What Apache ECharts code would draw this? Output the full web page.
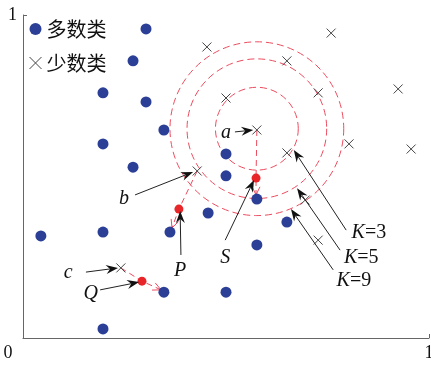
<!DOCTYPE html>
<html>
<head>
<meta charset="utf-8">
<script src="https://cdn.jsdelivr.net/npm/echarts@6/dist/echarts.min.js"></script>
<style>
  html, body { margin: 0; padding: 0; background: #fff; }
  #chart { width: 431px; height: 365px; }
</style>
</head>
<body>
<div id="chart"></div>
<script>
// majority class (dots)
const majorPoints = [
  [0.303, 0.957], [0.271, 0.858], [0.197, 0.759], [0.303, 0.731], [0.347, 0.644],
  [0.197, 0.601], [0.271, 0.529], [0.500, 0.570], [0.500, 0.502], [0.576, 0.430],
  [0.456, 0.387], [0.362, 0.328], [0.197, 0.328], [0.044, 0.316], [0.650, 0.359],
  [0.576, 0.288], [0.347, 0.142], [0.500, 0.142], [0.197, 0.028]
];
// minority class (crosses)
const minorPoints = [
  [0.453, 0.901], [0.759, 0.944], [0.650, 0.858], [0.727, 0.759], [0.500, 0.743],
  [0.576, 0.644], [0.924, 0.771], [0.803, 0.601], [0.956, 0.585], [0.650, 0.573],
  [0.429, 0.517], [0.241, 0.217], [0.727, 0.303], [0.695, 0.427]
];
// synthesized samples S, P, Q
const synthPoints = [[0.574, 0.495], [0.384, 0.399], [0.293, 0.176]];

// neighbourhood circles around a, radius in x units
const circleCenter = [0.576, 0.648];
const kRadii = [0.102, 0.172, 0.214];

// black pointer arrows: from x, from y, to x, to y
const pointerArrows = [
  [0.522, 0.638, 0.567, 0.644],
  [0.276, 0.443, 0.419, 0.514],
  [0.155, 0.204, 0.234, 0.217],
  [0.190, 0.149, 0.286, 0.173],
  [0.389, 0.257, 0.387, 0.393],
  [0.498, 0.303, 0.569, 0.489],
  [0.796, 0.334, 0.667, 0.582],
  [0.781, 0.272, 0.675, 0.464],
  [0.764, 0.211, 0.660, 0.399]
];

// red interpolation paths: seed -> new sample -> neighbour
const interpPaths = [
  [0.576, 0.644, 0.574, 0.495, 0.574, 0.443],
  [0.429, 0.517, 0.384, 0.399, 0.367, 0.341],
  [0.241, 0.217, 0.293, 0.176, 0.340, 0.149]
];

const labelNames = ['a', 'b', 'c', 'Q', 'P', 'S', 'K=3', 'K=5', 'K=9'];
const labelPos = [
  [0.500, 0.635], [0.249, 0.430], [0.111, 0.201], [0.167, 0.136], [0.387, 0.207],
  [0.498, 0.248], [0.852, 0.325], [0.833, 0.248], [0.815, 0.176]
];

const SERIF = '"Liberation Serif", "DejaVu Serif", serif';
const BLUE = '#2b3f96';
const RED = '#e8262a';
const PINK = '#ec4b5e';

function renderCircle(params, api) {
  const c = api.coord(circleCenter);
  const r = api.size([api.value(0), 0])[0];
  return {
    type: 'circle',
    shape: { cx: c[0], cy: c[1], r: r },
    style: { fill: null, stroke: PINK, lineWidth: 1, lineDash: [7, 4] }
  };
}

function renderArrow(params, api) {
  const p1 = api.coord([api.value(0), api.value(1)]);
  const p2 = api.coord([api.value(2), api.value(3)]);
  const ang = Math.atan2(p2[1] - p1[1], p2[0] - p1[0]);
  const c = Math.cos(ang), s = Math.sin(ang);
  const L = 12, W = 4.5, N = 8;
  const side = (d, w) => [p2[0] - d * c - w * s, p2[1] - d * s + w * c];
  return {
    type: 'group',
    children: [
      { type: 'line', shape: { x1: p1[0], y1: p1[1], x2: p2[0] - N * c, y2: p2[1] - N * s },
        style: { stroke: '#222', lineWidth: 1 } },
      { type: 'polygon', shape: { points: [p2, side(L, W), side(N, 0), side(L, -W)] },
        style: { fill: '#111' } }
    ]
  };
}

function renderInterp(params, api) {
  const pts = [0, 1, 2].map(i => api.coord([api.value(2 * i), api.value(2 * i + 1)]));
  const tip = pts[2], prev = pts[1];
  const ang = Math.atan2(tip[1] - prev[1], tip[0] - prev[0]);
  const h = 9, sp = 0.45;
  const w1 = [tip[0] - h * Math.cos(ang - sp), tip[1] - h * Math.sin(ang - sp)];
  const w2 = [tip[0] - h * Math.cos(ang + sp), tip[1] - h * Math.sin(ang + sp)];
  return {
    type: 'group',
    children: [
      { type: 'polyline', shape: { points: pts },
        style: { fill: null, stroke: PINK, lineWidth: 1, lineDash: [6, 4] } },
      { type: 'polyline', shape: { points: [w1, tip, w2] },
        style: { fill: null, stroke: PINK, lineWidth: 1 } }
    ]
  };
}

function renderLabel(params, api) {
  const p = api.coord([api.value(0), api.value(1)]);
  const name = labelNames[params.dataIndex];
  const txt = name.length > 1 ? '{i|' + name[0] + '}{n|' + name.slice(1) + '}' : '{i|' + name + '}';
  return {
    type: 'text',
    x: p[0], y: p[1],
    style: {
      text: txt,
      align: 'center',
      verticalAlign: 'middle',
      fill: '#111',
      rich: {
        i: { fontFamily: SERIF, fontSize: 20, fontStyle: 'italic', fill: '#111' },
        n: { fontFamily: SERIF, fontSize: 20, fill: '#111' }
      }
    }
  };
}

const chart = echarts.init(document.getElementById('chart'));
chart.setOption({
  animation: false,
  grid: { left: 23, right: 2, top: 15, bottom: 27, outerBoundsMode: 'none', containLabel: false },
  legend: {
    orient: 'vertical',
    left: 29,
    top: 19,
    itemWidth: 12,
    itemHeight: 12,
    itemGap: 14,
    padding: 0,
    textStyle: { fontFamily: '"Noto Sans CJK SC"', fontSize: 20, color: '#111' },
    data: [
      { name: '多数类', icon: 'circle', itemStyle: { color: BLUE } },
      { name: '少数类', icon: 'path://M0,0L10,10M0,10L10,0',
        itemStyle: { color: '#444', borderColor: '#444', borderWidth: 1 } }
    ]
  },
  xAxis: {
    type: 'value', min: 0, max: 1, interval: 1,
    splitLine: { show: false },
    axisLine: { lineStyle: { color: '#666' } },
    axisTick: { inside: true, length: 4, lineStyle: { color: '#666' } },
    axisLabel: {
      margin: 6,
      fontFamily: SERIF, fontSize: 18, color: '#111',
      formatter: v => v === 0 ? '{z|0}' : '1',
      rich: { z: { fontFamily: SERIF, fontSize: 18, color: '#111', padding: [0, 30, 0, 0] } }
    }
  },
  yAxis: {
    type: 'value', min: 0, max: 1, interval: 1,
    splitLine: { show: false },
    axisLine: { lineStyle: { color: '#666' } },
    axisTick: { inside: true, length: 4, lineStyle: { color: '#666' } },
    axisLabel: {
      margin: 6, showMinLabel: false,
      fontFamily: SERIF, fontSize: 18, color: '#111'
    }
  },
  series: [
    { type: 'custom', name: 'circles', z: 1, silent: true, clip: false,
      renderItem: renderCircle, data: kRadii.map(r => [r]) },
    { type: 'custom', name: 'interp', z: 1, silent: true, clip: false,
      renderItem: renderInterp, data: interpPaths },
    { type: 'scatter', name: '多数类', z: 3, symbol: 'circle', symbolSize: 11,
      itemStyle: { color: BLUE, opacity: 1 }, data: majorPoints },
    { type: 'scatter', name: '少数类', z: 3, symbol: 'path://M0,0L10,10M0,10L10,0', symbolSize: 9,
      itemStyle: { color: '#444', borderColor: '#444', borderWidth: 1, opacity: 1 }, data: minorPoints },
    { type: 'scatter', name: 'synth', z: 4, symbol: 'circle', symbolSize: 9,
      itemStyle: { color: RED, opacity: 1 }, data: synthPoints },
    { type: 'custom', name: 'arrows', z: 5, silent: true, clip: false,
      renderItem: renderArrow, data: pointerArrows },
    { type: 'custom', name: 'labels', z: 5, silent: true, clip: false,
      renderItem: renderLabel, data: labelPos }
  ]
});
</script>
</body>
</html>
